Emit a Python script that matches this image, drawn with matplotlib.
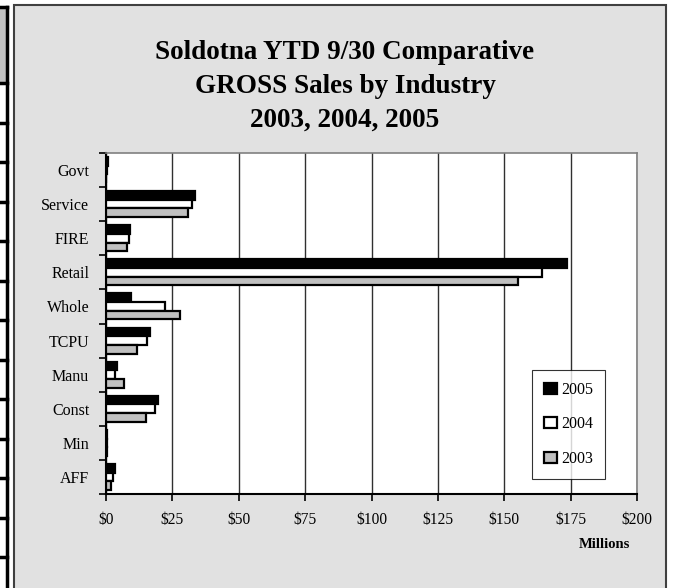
import matplotlib
matplotlib.use("Agg")
import matplotlib.pyplot as plt
from matplotlib.patches import Rectangle, Patch
from matplotlib.lines import Line2D
import numpy as np

plt.rcParams['font.family'] = ['Liberation Serif', 'DejaVu Serif']

categories = ["AFF", "Min", "Const", "Manu", "TCPU", "Whole", "Retail", "FIRE", "Service", "Govt"]
sales_2005 = [3.3, 0.5, 19.7, 4.3, 16.6, 9.3, 173.5, 9.0, 33.6, 0.6]
sales_2004 = [2.5, 0.3, 18.3, 3.5, 15.4, 22.2, 164.2, 8.8, 32.4, 0.2]
sales_2003 = [2.0, 0.3, 15.0, 6.7, 11.8, 27.7, 155.3, 8.0, 30.9, 0.1]
years = ["2005", "2004", "2003"]
x_ticks = [0, 25, 50, 75, 100, 125, 150, 175, 200]
x_labels = ["$0", "$25", "$50", "$75", "$100", "$125", "$150", "$175", "$200"]
title = "Soldotna YTD 9/30 Comparative\nGROSS Sales by Industry\n2003, 2004, 2005"

W, H = 676, 588
fig = plt.figure(figsize=(W / 100, H / 100), dpi=100)
fig.patch.set_facecolor("white")

def fx(px):
    return px / W

def fy(py):
    return 1 - py / H

# left strip (part of neighbouring sheet)
fig.add_artist(Rectangle((0, fy(83)), fx(5.5), fy(7) - fy(83), transform=fig.transFigure,
                         facecolor="#c0c0c0", edgecolor="none"))
fig.add_artist(Line2D([fx(6.5), fx(6.5)], [0, fy(7)], transform=fig.transFigure, color="black", lw=2.5))
for yy in [7, 83, 122.5, 162, 201.5, 241, 280.5, 320, 359.5, 399, 438.5, 478, 517.5, 557]:
    fig.add_artist(Line2D([0, fx(6.5)], [fy(yy), fy(yy)], transform=fig.transFigure, color="black", lw=2.5))

# chart frame
fig.add_artist(Rectangle((fx(14), fy(600)), fx(666) - fx(14), fy(5) - fy(600), transform=fig.transFigure,
                         facecolor="#e1e1e1", edgecolor="#404040", lw=1.5))

ax = fig.add_axes([fx(106), fy(494), fx(637) - fx(106), fy(153) - fy(494)])
ax.set_facecolor("white")
ax.set_zorder(2)

y = np.arange(len(categories))
h = 0.255
series = [sales_2005, sales_2004, sales_2003]
colors = ["black", "white", "#c0c0c0"]
offsets = [h, 0, -h]
for vals, c, off in zip(series, colors, offsets):
    ax.barh(y + off, vals, height=h, color=c, edgecolor="black", lw=1.6, zorder=3)

ax.set_xlim(0, 200)
ax.set_ylim(-0.5, len(categories) - 0.5)
ax.set_xticks(x_ticks)
ax.set_xticklabels(x_labels, fontsize=11.2)
ax.set_yticks(np.arange(-0.5, len(categories), 1.0))
ax.set_yticklabels([])
ax.set_yticks(y, minor=True)
ax.set_yticklabels(categories, minor=True, fontsize=11.5)
ax.tick_params(axis="y", which="minor", length=0, pad=12)
ax.tick_params(axis="y", which="major", length=5, width=1.2, direction="out")
ax.tick_params(axis="x", length=5, width=1.2, direction="out", pad=8)
ax.xaxis.grid(True, color="#303030", lw=1.0, zorder=1)
ax.set_axisbelow(True)
for s in ["top", "right"]:
    ax.spines[s].set_color("#808080")
    ax.spines[s].set_linewidth(1.2)
for s in ["left", "bottom"]:
    ax.spines[s].set_color("black")
    ax.spines[s].set_linewidth(1.5)

fig.text(fx(345), fy(86.5), title, ha="center", va="center", fontsize=19.5, fontweight="bold",
         linespacing=1.47)
fig.text(fx(604), fy(545), "Millions", ha="center", va="center", fontsize=10.5, fontweight="bold")

handles = [Patch(facecolor=c, edgecolor="black", lw=1.6) for c in colors]
leg = ax.legend(handles, years, loc="upper left", bbox_to_anchor=(fx(532), fy(370)),
                bbox_transform=fig.transFigure, fontsize=11.5, frameon=True, fancybox=False,
                handlelength=0.8, handleheight=0.7, handletextpad=0.25, labelspacing=1.15,
                borderpad=0.75, borderaxespad=0)
leg.get_frame().set_edgecolor("black")
leg.get_frame().set_linewidth(0.8)
leg.set_zorder(5)

fig.savefig("out.png", dpi=100)
